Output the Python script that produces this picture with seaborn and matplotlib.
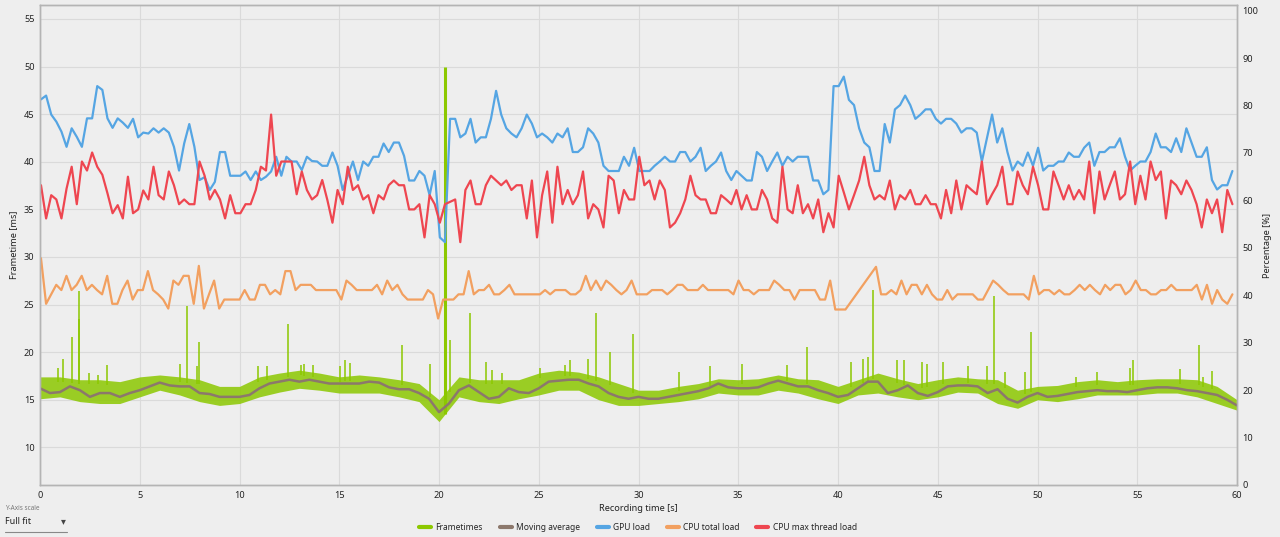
import numpy as np
import pandas as pd
import matplotlib
matplotlib.use("Agg")
import matplotlib.pyplot as plt
import seaborn as sns
from matplotlib.lines import Line2D

# sensor series, one sample roughly every 250 ms over the recording
gpu_load = [
    81.3, 82.1, 78.1, 76.6, 74.5, 71.3, 75.2, 73.4, 71.3, 77.3, 77.3, 84.1, 83.3, 77.3, 75.3, 77.3, 76.4, 75.3, 77.2, 73.3,
    74.3, 74.1, 75.2, 74.3, 75.2, 74.3, 71.3, 66.3, 72.0, 76.1, 71.3, 64.3, 64.9, 62.2, 63.9, 70.2, 70.2, 65.2, 65.2, 65.2,
    66.1, 64.3, 66.1, 64.3, 65.0, 66.1, 69.2, 65.2, 69.2, 68.2, 68.2, 66.4, 69.2, 68.3, 68.2, 67.3, 67.3,
    70.1, 67.3, 62.2, 65.2, 68.2, 64.3, 68.2, 67.3, 69.2, 69.2, 72.0, 70.2, 72.2, 72.2, 69.4, 64.2, 64.2, 66.2, 65.2, 61.1,
    66.2, 52.2, 51.2, 77.2, 77.2, 73.3, 74.1, 77.2, 72.2, 73.3, 73.3, 77.2, 83.1, 78.1, 75.2, 74.1, 73.3, 75.2, 78.1, 76.2,
    73.3, 74.1, 73.3, 72.2, 74.1, 73.3, 75.2, 70.2, 70.2, 71.2, 75.2, 74.1, 72.2, 67.3, 66.2, 66.2, 66.2, 69.2, 67.3, 71.1,
    66.2, 66.2,
    66.2, 67.3, 68.2, 69.2, 68.2, 68.2, 70.2, 70.2, 68.2, 69.2, 71.1, 66.2, 67.3, 68.2, 70.1, 66.2, 64.3, 66.2, 65.2, 64.2,
    64.2, 70.2, 69.2, 66.2, 68.2, 70.1, 67.3, 69.2, 68.2, 69.2, 69.2, 69.2, 64.2, 64.2, 61.3, 62.2, 84.1, 84.1, 86.1, 81.2,
    80.1, 75.2, 72.2, 71.2, 66.2, 66.2, 76.1, 72.2, 79.2, 80.1, 82.1, 80.1, 77.2, 78.1, 79.2, 79.2, 77.2, 76.2, 77.2, 77.2,
    76.2, 74.3, 75.2, 75.2,
    74.3, 68.2, 73.1, 78.1, 72.2, 75.2, 70.2, 66.3, 68.2, 67.3, 70.1, 67.3, 71.1, 66.3, 67.3, 67.3, 68.2, 68.2, 70.1, 69.2,
    69.2, 71.1, 72.2, 67.3, 70.2, 70.2, 71.2, 71.2, 73.1, 69.2, 66.3, 67.3, 68.2, 68.2, 70.2, 74.1, 71.2, 71.2, 70.2, 73.1,
    70.2, 75.2, 72.2, 69.2, 69.2, 71.2, 64.3, 62.3, 63.2, 63.2, 66.2,
]

cpu_max_thread = [
    63.2, 56.2, 61.1, 60.2, 56.2, 62.5, 67.1, 59.2, 68.2, 66.3, 70.1, 67.1, 65.4, 61.5, 57.3, 59.0, 56.2, 65.0, 57.3, 58.1,
    62.1, 60.2, 67.1, 61.1, 60.2, 66.1, 63.2, 59.2, 60.2, 59.2, 59.2, 68.2, 65.2, 60.2, 62.2, 60.2, 56.2, 61.1, 57.3, 57.3,
    59.2, 59.2, 62.2, 67.1, 66.3, 78.1, 65.2, 68.2, 68.2, 68.2, 61.3, 66.1, 62.2, 60.2, 61.1, 64.3, 60.1,
    55.3, 62.2, 59.2, 67.1, 62.2, 63.2, 60.2, 61.1, 57.3, 61.1, 60.2, 63.2, 64.2, 63.2, 63.2, 58.1, 58.1, 59.2, 52.2, 61.1,
    59.2, 55.3, 59.2, 59.7, 60.2, 51.2, 62.2, 64.2, 59.2, 59.2, 63.2, 65.2, 64.2, 63.2, 64.2, 62.2, 63.2, 63.2, 56.2, 64.2,
    52.2, 61.1, 66.1, 55.3, 67.1, 59.2, 62.2, 59.2, 61.1, 66.1, 56.2, 59.2, 58.1, 54.3, 65.2, 64.2, 57.3, 62.2, 60.2, 60.2,
    69.2, 63.2, 64.2,
    60.2, 64.2, 62.2, 54.3, 55.3, 57.3, 60.2, 65.2, 61.1, 60.2, 60.2, 57.3, 57.3, 61.1, 60.2, 59.2, 62.2, 58.1, 61.1, 58.1,
    58.1, 62.2, 60.2, 56.2, 55.3, 67.1, 58.1, 57.3, 63.2, 57.3, 59.2, 56.2, 60.2, 53.3, 57.3, 54.3, 65.2, 61.7, 58.1, 61.1,
    64.2, 69.2, 63.2, 60.2, 61.1, 60.2, 64.2, 58.1, 61.1, 60.2, 62.2, 59.2, 59.2, 61.1, 59.2, 59.2, 56.2, 62.2, 57.3, 64.2,
    58.1, 63.2, 62.2,
    61.3, 68.2, 59.2, 61.3, 63.2, 67.1, 59.2, 59.2, 66.1, 63.2, 61.3, 67.1, 63.2, 58.1, 58.1, 66.1, 63.2, 60.2, 63.2, 60.2,
    62.2, 60.2, 68.2, 57.3, 66.1, 60.2, 63.2, 66.1, 60.2, 61.3, 68.2, 59.2, 65.2, 60.2, 68.2, 64.3, 66.1, 56.2, 64.2, 63.2,
    61.3, 64.2, 62.2, 59.2, 54.3, 60.2, 57.3, 60.2, 53.3, 62.2, 59.2,
]

cpu_total = [
    47.8, 38.2, 40.2, 42.2, 41.1, 44.1, 41.1, 42.2, 44.1, 41.1, 42.2, 41.1, 40.2, 44.1, 38.2, 38.2, 41.1, 43.1, 39.1, 41.1,
    41.1, 45.1, 41.1, 40.2, 39.1, 37.2, 43.1, 42.2, 44.1, 44.1, 38.2, 46.2, 37.2, 40.2, 43.1, 37.2, 39.1, 39.1, 39.1, 39.1,
    41.1, 39.1, 39.1, 42.2, 42.2, 40.2, 41.1, 40.2, 45.1, 45.1, 41.1, 42.2, 42.2, 42.2, 41.1, 41.1, 41.1,
    41.1, 41.1, 39.1, 43.1, 42.2, 41.1, 41.1, 41.1, 41.1, 42.2, 40.2, 43.1, 41.1, 42.2, 40.2, 39.1, 39.1, 39.1, 39.1, 41.1,
    40.2, 35.1, 39.1, 39.1, 39.1, 40.2, 40.2, 45.1, 40.2, 41.1, 41.1, 42.2, 40.2, 40.2, 41.1, 42.2, 40.2, 40.2, 40.2, 40.2,
    40.2, 40.2, 41.1, 40.2, 41.1, 41.1, 41.1, 40.2, 40.2, 41.1, 44.1, 41.1, 43.1, 41.1, 43.1, 42.2, 41.1, 40.2, 41.1, 43.1,
    40.2, 40.2, 40.2,
    41.1, 41.1, 41.1, 40.2, 41.1, 42.2, 42.2, 41.1, 41.1, 41.1, 42.2, 41.1, 41.1, 41.1, 41.1, 41.1, 40.2, 43.1, 41.1, 41.1,
    40.2, 41.1, 41.1, 41.1, 43.1, 42.2, 41.1, 41.1, 39.1, 41.1, 41.1, 41.1, 41.1, 39.1, 39.1, 43.1, 37.0, 37.0, 37.0, 38.5,
    40.0, 41.5, 43.0, 44.5, 46.0, 40.2, 40.2, 41.1, 40.2, 43.1, 40.2, 42.2, 42.2, 40.2, 42.2, 40.2, 39.1, 39.1, 41.1, 39.1,
    40.2, 40.2, 40.2, 40.2,
    39.1, 39.1, 41.1, 43.1, 42.2, 41.1, 40.2, 40.2, 40.2, 40.2, 39.1, 44.1, 40.2, 41.1, 41.1, 40.2, 41.1, 40.2, 40.2, 41.1,
    42.2, 41.1, 42.2, 41.1, 40.2, 42.2, 41.1, 42.2, 42.2, 40.2, 41.1, 43.1, 41.1, 41.1, 40.2, 40.2, 41.1, 41.1, 42.2, 41.1,
    41.1, 41.1, 41.1, 42.2, 39.1, 42.2, 38.2, 41.1, 39.1, 38.2, 40.2,
]
sensor_start, sensor_end = 0.05, 59.77

# frametime moving average, one value per 0.5 s
moving_avg = [
    16.2, 15.7, 15.8, 16.4, 16.0, 15.3, 15.7, 15.7, 15.3, 15.7,
    16.0, 16.4, 16.8, 16.5, 16.4, 16.4, 15.7, 15.6, 15.3, 15.3,
    15.3, 15.5, 16.2, 16.7, 16.9, 17.1, 16.9, 17.1, 16.9, 16.7,
    16.7, 16.7, 16.7, 16.9, 16.8, 16.3, 16.1, 16.1, 15.7, 15.1,
    13.7, 14.6, 16.0, 16.5, 15.8, 15.1, 15.3, 16.2, 15.8, 15.7,
    16.2, 16.9, 17.0, 17.1, 17.1, 16.7, 16.4, 15.7, 15.3, 15.1,
    15.3, 15.1, 15.1, 15.3, 15.5, 15.7, 15.9, 16.2, 16.7, 16.3,
    16.2, 16.2, 16.3, 16.7, 17.0, 16.7, 16.4, 16.4, 16.0, 15.7,
    15.3, 15.5, 16.2, 16.9, 16.9, 15.7, 16.0, 16.5, 15.7, 15.4,
    15.8, 16.4, 16.5, 16.5, 16.4, 15.7, 16.1, 15.1, 14.7, 15.3,
    15.7, 15.3, 15.4, 15.6, 15.8, 15.9, 16.0, 15.9, 15.9, 15.8,
    16.0, 16.2, 16.3, 16.3, 16.2, 16.0, 15.9, 15.7, 15.5, 15.0,
    14.4,
]

# bulk of the frametimes (upper / lower edge of the band), one value per second
ft_band_hi = [
    17.4, 17.4, 17.1, 17.1, 16.9, 17.4, 17.6, 17.4, 17.1, 16.4, 16.4, 17.4, 17.8, 18.1, 17.8, 17.4, 17.6, 17.4, 17.1, 16.7,
    15.0, 17.4, 17.1, 17.1, 17.1, 17.8, 18.1, 17.9, 17.4, 16.7, 16.0, 16.0, 16.4, 16.7, 17.2, 17.1, 17.2, 17.6, 17.2, 17.1,
    16.4, 17.1, 17.8, 17.2, 16.7, 17.1, 17.4, 17.2, 17.1, 16.0, 16.4, 16.5, 16.9, 17.1, 16.9, 17.1, 17.2, 17.2, 17.1, 16.4,
    15.0,
]
ft_band_lo = [
    15.1, 15.3, 14.8, 14.6, 14.6, 15.3, 16.0, 15.5, 14.8, 14.4, 14.6, 15.3, 15.8, 16.2, 16.0, 15.7, 15.7, 15.7, 15.3, 14.8,
    12.7, 15.3, 14.8, 14.6, 15.1, 15.5, 16.0, 16.0, 15.0, 14.4, 14.4, 14.6, 14.8, 15.1, 15.7, 15.5, 15.5, 16.0, 15.7, 15.1,
    14.6, 15.5, 15.7, 15.3, 15.0, 15.3, 15.8, 15.7, 14.6, 14.1, 15.0, 14.8, 15.1, 15.5, 15.5, 15.5, 15.7, 15.7, 15.3, 14.6,
    13.9,
]

# single slow frames: time [s] and frametime [ms]
spike_t = [0.0, 0.92, 1.17, 1.62, 1.93, 1.97, 2.47, 2.92, 3.38, 7.02, 7.35, 7.89, 7.99, 10.94, 11.36, 12.45, 13.1, 13.23, 13.7,
           15.04, 15.29, 15.54, 18.13, 19.55, 20.55, 21.56, 22.34, 22.64, 23.14, 25.06, 26.32, 26.56, 27.48, 27.87, 28.57, 29.74,
           32.05, 33.58, 35.17, 37.43, 38.46, 40.64, 41.27, 41.52, 41.77, 42.94, 43.31, 44.19, 44.44, 45.28,
           46.53, 47.45, 47.84, 48.37, 49.37, 49.67, 51.93, 52.96, 54.63, 54.8, 57.14, 58.11, 58.31, 58.73]
spike_ms = [18.2, 18.3, 19.3, 21.6, 26.4, 23.5, 17.8, 17.6, 18.7, 18.8, 24.8, 18.5, 21.1, 18.5, 18.5, 23.0, 18.6, 18.8, 18.6,
            18.5, 19.2, 18.9, 20.7, 18.8, 21.3, 24.1, 19.0, 18.1, 17.8, 18.3, 18.6, 19.2, 19.3, 24.1, 20.0, 21.9,
            17.9, 18.5, 18.8, 18.6, 20.5, 19.0, 19.3, 19.5, 26.5, 19.2, 19.2, 19.0, 18.8, 19.0,
            18.5, 18.5, 25.9, 17.9, 17.9, 22.1, 17.4, 17.9, 18.3, 19.2, 18.2, 20.8, 17.4, 18.0]
stutter_t, stutter_ms = 20.3, 50.0

x_ticks = list(range(0, 61, 5))
ft_ticks = list(range(10, 56, 5))
pct_ticks = list(range(0, 101, 10))

c_ft = "#8CC800"
c_ma = "#8C786C"
c_gpu = "#55A5E3"
c_cpu = "#F2A060"
c_thr = "#EE4650"
bg = "#EEEEEE"
txt = "#222222"

sns.set_theme(style="whitegrid")
plt.rcParams["font.family"] = ["Noto Sans", "DejaVu Sans"]

fig = plt.figure(figsize=(12.8, 5.37), dpi=100, facecolor=bg)
ax = fig.add_axes([40 / 1280, 1 - 485 / 537, 1197 / 1280, 480 / 537])
ax.set_facecolor(bg)
ax2 = ax.twinx()

# percentage series on the right axis
sensors = {
    "gpu": (gpu_load, c_gpu),
    "cpu": (cpu_total, c_cpu),
    "thr": (cpu_max_thread, c_thr),
}
for key, (vals, col) in sensors.items():
    df = pd.DataFrame({"t": np.linspace(sensor_start, sensor_end, len(vals)), "v": vals})
    sns.lineplot(data=df, x="t", y="v", ax=ax2, color=col, lw=1.6, estimator=None, sort=False)

# frametimes on the left axis
band_t = np.arange(len(ft_band_hi))
ax.fill_between(band_t, ft_band_lo, ft_band_hi, color=c_ft, alpha=0.85, lw=0, zorder=2)
spike_base = np.interp(spike_t, band_t, ft_band_hi) - 0.5
ax.vlines(spike_t, spike_base, spike_ms, color=c_ft, lw=1.1, zorder=2)
ax.vlines([stutter_t], [np.interp(stutter_t, band_t, ft_band_lo)], [stutter_ms], color=c_ft, lw=2.2, zorder=2)

ma_df = pd.DataFrame({"t": np.arange(len(moving_avg)) * 0.5, "ms": moving_avg})
sns.lineplot(data=ma_df, x="t", y="ms", ax=ax, color=c_ma, lw=1.8, estimator=None, zorder=3)

ax.set_xlim(0, 60)
ax.set_ylim(6.04, 56.47)
ax2.set_ylim(0, 101.2)
ax.set_xticks(x_ticks)
ax.set_yticks(ft_ticks)
ax2.set_yticks(pct_ticks)
ax.grid(True, color="#DADADA", lw=0.8)
ax2.grid(False)

for a in (ax, ax2):
    a.tick_params(length=0, labelsize=6.6, colors=txt, pad=4)
    for s in a.spines.values():
        s.set_color("#B4B4B4")
        s.set_linewidth(1.0)

ax.set_xlabel("Recording time [s]", fontsize=6.6, color=txt, labelpad=3)
ax.set_ylabel("Frametime [ms]", fontsize=6.6, color=txt)
ax2.set_ylabel("Percentage [%]", fontsize=6.6, color=txt)
ax.yaxis.set_label_coords(-0.018, 0.5)
ax2.yaxis.set_label_coords(1.0221, 0.5)

handles = [Line2D([0], [0], color=c, lw=3) for c in (c_ft, c_ma, c_gpu, c_cpu, c_thr)]
labels = ["Frametimes", "Moving average", "GPU load", "CPU total load", "CPU max thread load"]
fig.legend(handles, labels, loc="center", bbox_to_anchor=(638 / 1280, 1 - 527 / 537), ncol=5,
           frameon=False, fontsize=6.1, handlelength=1.4, columnspacing=2.0, handletextpad=0.5)

# y-axis scale selector at the bottom left
fig.text(5 / 1280, 1 - 508 / 537, "Y-Axis scale", fontsize=4.6, color="#777777", va="center")
fig.text(5 / 1280, 1 - 521 / 537, "Full fit", fontsize=6.4, color=txt, va="center")
fig.text(63 / 1280, 1 - 521 / 537, "\u25BE", fontsize=7, color="#444444", va="center", ha="center",
         family=["DejaVu Sans"])
fig.add_artist(Line2D([5 / 1280, 67 / 1280], [1 - 532 / 537] * 2, color="#888888", lw=0.8))

fig.savefig("out.png", dpi=100, facecolor=bg)
